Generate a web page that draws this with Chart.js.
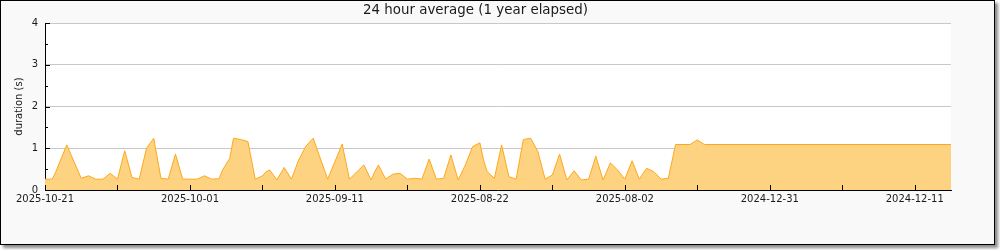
<!DOCTYPE html>
<html>
<head>
<meta charset="utf-8">
<script src="https://cdn.jsdelivr.net/npm/chart.js@4/dist/chart.umd.min.js"></script>
<style>
  html, body { margin: 0; padding: 0; background: #ffffff; }
  #frame {
    position: absolute; left: 0; top: 0;
    width: 993px; height: 243px;
    border: 1px solid #000;
    background: #f9f9f9;
    box-shadow: 3px 3px 3px #8a8a8a;
  }
  #wrap { position: absolute; left: 0; top: 0; width: 1000px; height: 250px; }
</style>
</head>
<body>
<div id="frame"></div>
<div id="wrap"><canvas id="c" width="1000" height="250"></canvas></div>
<script>
// Chart values (x = days from the left edge of the axis, y = duration in seconds)
const dayOffsets = [
  0, 1, 1.5, 3, 5, 6, 7, 8, 9, 10, 11, 12, 13, 14, 14.5, 15, 16, 17, 18, 19,
  21, 22, 23, 24, 24.5, 25.5, 26, 27, 28, 29, 30, 30.5, 31, 32, 33, 34, 35, 36, 37, 39,
  41, 42, 44, 45, 45.5, 46, 47, 48, 49, 50, 51, 52, 53, 54, 55, 56, 57, 58, 59, 60,
  60.5, 61, 62, 63, 64, 65, 66, 67, 68, 69, 70, 71, 72, 73, 74, 75, 76, 77, 78, 79,
  80, 81, 82, 83, 84, 85, 86, 87, 89, 90, 91, 125
];
const durations = [
  0.26, 0.26, 0.44, 1.08, 0.28, 0.34, 0.26, 0.26, 0.40, 0.26, 0.94, 0.30, 0.26, 1.00, 1.12, 1.24, 0.28, 0.26, 0.86, 0.26,
  0.26, 0.34, 0.26, 0.27, 0.48, 0.76, 1.24, 1.21, 1.16, 0.26, 0.34, 0.44, 0.48, 0.24, 0.54, 0.26, 0.72, 1.05, 1.24, 0.26,
  1.10, 0.26, 0.60, 0.24, 0.44, 0.60, 0.26, 0.38, 0.40, 0.26, 0.28, 0.26, 0.74, 0.26, 0.28, 0.84, 0.24, 0.60, 1.04, 1.13,
  0.72, 0.44, 0.28, 1.08, 0.32, 0.26, 1.21, 1.24, 0.92, 0.26, 0.36, 0.86, 0.24, 0.46, 0.24, 0.26, 0.81, 0.24, 0.65, 0.48,
  0.26, 0.70, 0.26, 0.52, 0.44, 0.26, 0.28, 1.09, 1.09, 1.20, 1.09, 1.09
];
// Tick labels every 10 days (empty = unlabeled tick)
const tickLabels = [
  '2025-10-21', '', '2025-10-01', '', '2025-09-11', '', '2025-08-22', '',
  '2025-08-02', '', '2024-12-31', '', '2024-12-11'
];
const titleText = '24 hour average (1 year elapsed)';
const yTitle = 'duration (s)';

const points = dayOffsets.map((d, i) => ({ x: d, y: durations[i] }));

const FONT = 'DejaVu Sans';
const TXT = '#1a1a1a';

const plotBg = {
  id: 'plotBg',
  beforeDraw(chart) {
    const { ctx, chartArea: a } = chart;
    ctx.save();
    ctx.fillStyle = '#ffffff';
    ctx.fillRect(a.left, a.top, a.right - a.left, a.bottom - a.top);
    ctx.restore();
  }
};

const innerTicks = {
  id: 'innerTicks',
  afterDraw(chart) {
    const { ctx, chartArea: a, scales: { x, y } } = chart;
    ctx.save();
    ctx.strokeStyle = '#000';
    ctx.lineWidth = 1;
    ctx.beginPath();
    x.ticks.forEach(t => {
      const px = Math.round(x.getPixelForValue(t.value)) + 0.5;
      ctx.moveTo(px, a.bottom);
      ctx.lineTo(px, a.bottom - 5);
    });
    for (let k = 0; k <= 8; k++) {
      const v = k / 2;
      const py = Math.round(y.getPixelForValue(v)) + 0.5;
      const len = (k % 2 === 0) ? 5 : 3;
      ctx.moveTo(a.left, py);
      ctx.lineTo(a.left + len, py);
    }
    ctx.stroke();
    ctx.restore();
  }
};

new Chart(document.getElementById('c'), {
  type: 'line',
  data: {
    datasets: [{
      data: points,
      borderColor: '#ffa81c',
      backgroundColor: '#fdd280',
      borderWidth: 1,
      pointRadius: 0,
      tension: 0,
      fill: 'origin'
    }]
  },
  options: {
    responsive: false,
    animation: false,
    layout: { padding: { left: 0, right: 49, top: 0, bottom: 0 } },
    plugins: {
      legend: { display: false },
      tooltip: { enabled: false },
      title: {
        display: true,
        text: titleText,
        color: TXT,
        font: { family: FONT, size: 13.4, weight: 'normal' },
        padding: { top: 2, bottom: 5 }
      }
    },
    scales: {
      x: {
        type: 'linear',
        min: 0,
        max: 125,
        grid: { display: false, drawTicks: false },
        border: { display: true, color: '#000', width: 1 },
        ticks: {
          stepSize: 10,
          includeBounds: false,
          autoSkip: false,
          maxRotation: 0,
          padding: 3,
          color: TXT,
          font: { family: FONT, size: 10 },
          callback: v => tickLabels[Math.round(v / 10)] || ''
        },
        afterFit: s => { s.height = 60; }
      },
      y: {
        type: 'linear',
        min: 0,
        max: 4,
        grid: { color: '#c8c8c8', drawTicks: false, lineWidth: 1 },
        border: { display: true, color: '#000', width: 1 },
        ticks: {
          stepSize: 1,
          padding: 7,
          color: TXT,
          font: { family: FONT, size: 10 }
        },
        title: {
          display: true,
          text: yTitle,
          color: TXT,
          font: { family: FONT, size: 10 },
          padding: { top: 13, bottom: 0 }
        },
        afterFit: s => { s.width = 45; }
      }
    }
  },
  plugins: [plotBg, innerTicks]
});
</script>
</body>
</html>
